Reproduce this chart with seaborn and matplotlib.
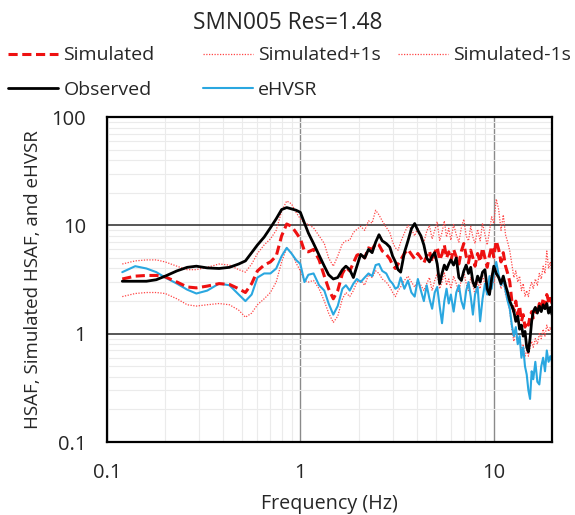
import numpy as np
import pandas as pd
import seaborn as sns
import matplotlib.pyplot as plt
from matplotlib.ticker import FixedLocator, FixedFormatter, LogLocator, NullFormatter

freq = [0.12, 0.14, 0.16, 0.18, 0.2, 0.23, 0.26, 0.29, 0.33, 0.38, 0.43, 0.48, 0.52, 0.56, 0.6,
        0.65, 0.7, 0.75, 0.8, 0.85, 0.9, 0.95, 1.0, 1.05, 1.1, 1.17, 1.25, 1.33, 1.4, 1.48,
        1.56, 1.65, 1.72, 1.8, 1.88, 1.96, 2.05, 2.15, 2.25, 2.35, 2.45, 2.55, 2.65, 2.78, 2.9,
        3.0, 3.1, 3.2, 3.3, 3.45, 3.6, 3.75, 3.9, 4.05,
        4.2, 4.35, 4.5, 4.65, 4.8, 4.95, 5.1, 5.25, 5.4, 5.55, 5.7, 5.85, 6.0, 6.2, 6.4, 6.6,
        6.8, 7.0, 7.2, 7.4, 7.6, 7.8, 8.0, 8.25, 8.5, 8.75, 9.0, 9.25, 9.5, 9.75, 10.0, 10.3,
        10.6, 10.9, 11.2, 11.5, 11.8, 12.1, 12.4, 12.7, 13.0, 13.3, 13.6, 13.9, 14.2, 14.5,
        14.8, 15.1, 15.4, 15.7, 16.0, 16.4, 16.8, 17.2, 17.6, 18.0, 18.4, 18.8, 19.2, 19.6, 20.0]

observed = [3.05, 3.05, 3.05, 3.15, 3.4, 3.8, 4.1, 4.2, 4.05, 4.0, 4.1, 4.4, 4.7, 5.6, 6.6,
            7.8, 9.5, 11.5, 14.0, 14.6, 14.2, 13.8, 13.2, 10.5, 8.5, 6.8, 5.3, 4.2, 3.5, 3.2,
            3.3, 3.9, 4.2, 3.9, 3.3, 4.2, 5.4, 5.0, 6.0, 5.6, 7.0, 8.2, 7.2, 6.8, 6.3,
            5.2, 4.6, 3.9, 3.7, 5.6, 7.2, 9.3, 10.4, 9.0,
            8.0, 6.6, 5.0, 4.6, 5.2, 5.6, 4.4, 2.9, 3.6, 4.3, 3.9, 4.4, 4.8, 4.3, 5.0, 3.3,
            3.1, 3.8, 4.3, 3.6, 4.1, 3.0, 2.7, 3.4, 3.0, 3.7, 3.9, 2.6, 2.3, 3.2, 4.2, 3.6,
            3.3, 2.9, 3.4, 2.8, 2.4, 2.0, 1.8, 1.6, 1.3, 1.45, 1.1, 1.2, 0.95, 1.05,
            0.75, 0.68, 0.9, 1.3, 1.6, 1.75, 1.55, 1.8, 1.6, 1.85, 1.7, 1.9, 1.55, 1.75, 1.5]

simulated = [3.2, 3.4, 3.45, 3.45, 3.35, 3.0, 2.7, 2.65, 2.75, 2.9, 2.85, 2.6, 2.4, 2.9, 3.8,
             4.3, 4.6, 5.2, 8.0, 10.3, 9.8, 8.6, 7.5, 5.8, 5.7, 6.0, 4.8, 3.4, 2.6, 2.1,
             2.5, 3.6, 4.1, 3.8, 4.5, 5.3, 5.5, 5.0, 6.2, 6.0, 6.8, 6.6, 5.8, 5.4, 4.9,
             4.3, 4.0, 4.4, 4.8, 5.5, 6.0, 5.4, 4.9, 5.5,
             5.0, 4.5, 5.2, 5.8, 4.6, 5.6, 6.3, 4.8, 5.4, 6.6, 5.0, 5.7, 4.7, 6.0, 5.1, 4.4,
             5.8, 6.8, 5.2, 4.5, 5.9, 5.0, 4.2, 5.5, 4.6, 6.2, 5.0, 4.1, 5.3, 6.4, 5.1, 7.2,
             6.0, 4.6, 5.6, 4.2, 3.6, 3.0, 2.0, 1.6, 2.0, 1.5, 1.8, 1.3, 1.5, 1.15,
             1.3, 1.2, 1.45, 1.6, 1.4, 1.7, 1.5, 1.9, 1.7, 2.1, 1.8, 2.3, 2.0, 2.2, 1.9]

sim_plus = [4.4, 4.7, 4.8, 4.8, 4.6, 4.2, 3.9, 3.9, 4.1, 4.4, 4.3, 3.9, 3.7, 4.4, 5.5,
            6.6, 7.5, 9.0, 13.5, 16.8, 15.8, 13.2, 11.5, 10.5, 10.2, 9.5, 8.0, 6.8, 5.0, 4.2,
            5.2, 6.8, 7.2, 7.3, 8.6, 9.2, 9.8, 9.0, 11.0, 10.5, 13.8, 12.5, 11.0, 9.6, 8.6,
            7.0, 6.2, 5.9, 7.0, 8.5, 10.0, 9.2, 8.0, 9.5,
            7.6, 7.0, 8.8, 10.0, 7.5, 9.0, 10.8, 7.2, 8.6, 11.0, 7.8, 9.4, 7.3, 10.2, 8.2, 7.0,
            9.6, 11.4, 8.0, 7.2, 9.8, 7.8, 6.8, 9.2, 7.2, 10.5, 8.2, 6.6, 8.8, 12.0, 10.4, 17.5,
            14.0, 9.0, 12.5, 8.2, 7.0, 5.8, 4.4, 3.3, 3.8, 3.0, 3.4, 2.5, 2.9, 2.2,
            2.5, 2.2, 2.7, 3.0, 2.6, 3.2, 2.8, 3.6, 3.2, 4.2, 3.6, 5.8, 4.0, 4.6, 3.6]

sim_minus = [2.2, 2.35, 2.4, 2.4, 2.35, 2.1, 1.85, 1.8, 1.85, 1.9, 1.85, 1.65, 1.42, 1.55, 1.85,
             2.1, 2.4, 3.0, 4.6, 6.2, 5.6, 4.5, 3.8, 3.1, 3.0, 3.1, 2.6, 2.0, 1.55, 1.27,
             1.45, 2.1, 2.4, 2.2, 2.5, 3.0, 3.1, 2.8, 3.5, 3.3, 3.8, 3.6, 3.2, 3.0, 2.7,
             2.4, 2.2, 2.5, 2.7, 3.1, 3.4, 3.0, 2.7, 3.1,
             2.8, 2.5, 2.9, 3.3, 2.5, 3.1, 3.6, 2.6, 3.0, 3.7, 2.8, 3.2, 2.6, 3.4, 2.9, 2.4,
             3.2, 3.8, 2.9, 2.5, 3.3, 2.8, 2.3, 3.0, 2.6, 3.5, 2.8, 2.3, 3.0, 3.6, 2.9, 4.0,
             3.3, 2.6, 3.1, 2.3, 2.0, 1.6, 1.1, 0.85, 1.05, 0.8, 0.95, 0.7, 0.8, 0.62,
             0.7, 0.62, 0.75, 0.85, 0.75, 0.9, 0.8, 1.0, 0.9, 1.1, 0.95, 1.2, 1.05, 1.15, 1.0]

ehvsr = [3.7, 4.2, 4.0, 3.7, 3.3, 2.9, 2.55, 2.35, 2.5, 2.9, 2.8, 2.3, 2.0, 2.3, 3.3,
         3.6, 3.6, 4.0, 5.2, 6.2, 5.5, 4.8, 4.4, 3.0, 3.5, 3.6, 2.8, 2.5, 1.9, 1.5,
         1.8, 2.6, 2.8, 2.5, 2.9, 3.2, 3.0, 3.3, 3.6, 3.4, 4.3, 4.4, 3.8, 3.6, 3.1,
         2.9, 2.6, 2.7, 3.3, 2.6, 3.1, 2.4, 2.2, 3.2,
         2.5, 2.0, 2.8, 2.1, 1.7, 2.4, 2.7, 1.8, 1.25, 2.0, 2.6, 1.9, 2.3, 1.6, 2.4, 2.8,
         2.0, 1.7, 2.5, 3.0, 2.2, 1.5, 2.3, 2.7, 1.3, 2.1, 2.9, 2.3, 3.4, 2.6, 3.6, 4.6,
         3.5, 2.8, 3.2, 2.5, 2.0, 1.7, 1.2, 0.95, 1.15, 0.8, 0.95, 0.6, 0.75, 0.5,
         0.42, 0.3, 0.25, 0.45, 0.38, 0.55, 0.36, 0.34, 0.5, 0.6, 0.45, 0.7, 0.55, 0.62, 0.55]

df = pd.DataFrame({'freq': freq, 'Observed': observed, 'Simulated': simulated,
                   'Simulated+1s': sim_plus, 'Simulated-1s': sim_minus, 'eHVSR': ehvsr})

sns.set_style('white')
plt.rcParams['font.family'] = ['Open Sans', 'DejaVu Sans']

fig = plt.figure(figsize=(5.75, 5.15), dpi=100)
ax = fig.add_axes([0.186, 0.1417, 0.774, 0.631])

# lineas
sns.lineplot(data=df, x='freq', y='Simulated+1s', ax=ax, color='#ff4545', lw=0.9, ls=(0, (1, 1.2)), label='Simulated+1s')
sns.lineplot(data=df, x='freq', y='Simulated-1s', ax=ax, color='#ff4545', lw=0.9, ls=(0, (1, 1.2)), label='Simulated-1s')
sns.lineplot(data=df, x='freq', y='eHVSR', ax=ax, color='#2aa7e0', lw=1.5, label='eHVSR')
sns.lineplot(data=df, x='freq', y='Simulated', ax=ax, color='#ee1111', lw=2.2, ls=(0, (3, 1.5)), label='Simulated')
sns.lineplot(data=df, x='freq', y='Observed', ax=ax, color='black', lw=2.0, label='Observed')

ax.set_xscale('log')
ax.set_yscale('log')
ax.set_xlim(0.1, 20)
ax.set_ylim(0.1, 100)

ax.xaxis.set_major_locator(FixedLocator([0.1, 1, 10]))
ax.xaxis.set_major_formatter(FixedFormatter(['0.1', '1', '10']))
ax.yaxis.set_major_locator(FixedLocator([0.1, 1, 10, 100]))
ax.yaxis.set_major_formatter(FixedFormatter(['0.1', '1', '10', '100']))
ax.xaxis.set_minor_locator(LogLocator(base=10, subs=np.arange(2, 10)))
ax.yaxis.set_minor_locator(LogLocator(base=10, subs=np.arange(2, 10)))
ax.xaxis.set_minor_formatter(NullFormatter())
ax.yaxis.set_minor_formatter(NullFormatter())

ax.grid(True, which='minor', color='#ebebeb', lw=0.8)
ax.grid(True, axis='x', which='major', color='#8a8a8a', lw=1.0)
ax.grid(True, axis='y', which='major', color='#3a3a3a', lw=1.2)
ax.set_axisbelow(True)
ax.tick_params(which='both', length=0, labelsize=14.5)
ax.tick_params(axis='x', pad=15)
ax.tick_params(axis='y', pad=15)
for s in ax.spines.values():
    s.set_color('black')
    s.set_linewidth(1.6)

ax.set_xlabel('Frequency (Hz)', fontsize=14.2, labelpad=8)
ax.set_ylabel('HSAF, Simulated HSAF, and eHVSR', fontsize=13.5, labelpad=7)

fig.text(0.5, 0.955, 'SMN005 Res=1.48', ha='center', va='center', fontsize=16.3)

# leyenda: tres columnas de ancho fijo, como en Excel
h, l = ax.get_legend_handles_labels()
hd = dict(zip(l, h))
ax.get_legend().remove()
cols = [(['Simulated', 'Observed'], 0.014), (['Simulated+1s', 'eHVSR'], 0.353), (['Simulated-1s'], 0.692)]
for names, x0 in cols:
    fig.legend([hd[k] for k in names], names, loc='upper left', bbox_to_anchor=(x0, 0.910),
               frameon=False, fontsize=14, handlelength=2.58, handletextpad=0.26,
               labelspacing=0.87, borderpad=0, borderaxespad=0)

fig.savefig('out.png', dpi=100)
